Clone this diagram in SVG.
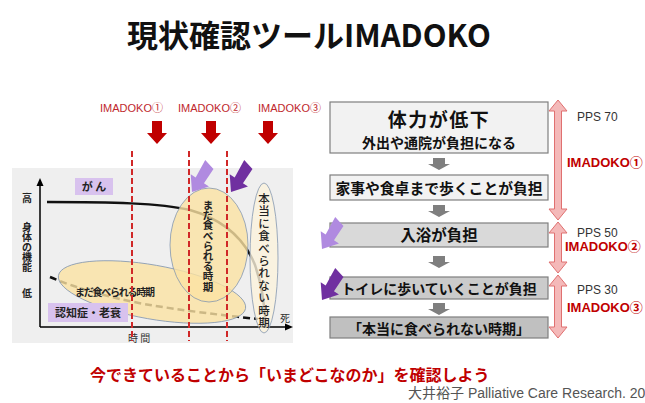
<svg xmlns="http://www.w3.org/2000/svg" width="645" height="403" viewBox="0 0 645 403">
<style>
.jp{font-family:"Noto Sans CJK JP",sans-serif}
.lat{font-family:"Liberation Sans","Noto Sans CJK JP",sans-serif}
.redlab{fill:#c0282d;font-size:11px}
.rlab{fill:#c00000;font-size:13px;font-weight:bold}
.pps{fill:#333;font-size:12px}
.box{stroke:#7f7f7f;stroke-width:1.2}
.btxt{fill:#111;font-weight:bold;text-anchor:middle}
.vdash{stroke:#d02828;stroke-width:2;stroke-dasharray:6 3;fill:none}
.ell{fill:#fbe2a3;fill-opacity:0.8;stroke:#8497b0;stroke-width:0.8}
.gray{fill:#7f7f7f}
.reddown{fill:#c00000}
.dbl{fill:#f4b9b9;stroke:#e07070;stroke-width:1}
.lp{fill:#b08ae0}
.dp{fill:#7030a0}
.ax{stroke:#000;stroke-width:1.5;fill:none}
.ctxt{fill:#222;font-size:10px;font-weight:bold;text-anchor:middle}
</style>
<defs>
<path id="bolt" d="M0,0 L-11,-14 L-5,-14 L-7,-34 L5,-31 L5,-14 L11,-14 Z"/>
<path id="gdown" d="M-6,0 H6 V6 H11 L0,12 L-11,6 H-6 Z"/>
<path id="rdown" d="M-5,0 H5 V12 H10 L0,23 L-10,12 H-5 Z"/>
</defs>
<rect width="645" height="403" fill="#fff"/>

<g id="title">
<text class="jp" x="127" y="47" font-size="31" font-weight="bold" fill="#111">現状確認ツールIMADOKO</text>
</g>

<g id="chart">
<rect x="12" y="168" width="281" height="175" fill="#efefef"/>
<path class="ax" d="M40,327 V183 M40,327 H287"/>
<polygon points="40,178 36.5,186 43.5,186" fill="#000"/>
<polygon points="293,327 285,323.5 285,330.5" fill="#000"/>
<path d="M47,202 C110,202 160,203 190,210 C225,220 245,240 255,265 C262,285 265,310 266,327" fill="none" stroke="#111" stroke-width="2.5"/>
<path d="M50,277 C80,290 120,300 150,305 S220,315 258,319" fill="none" stroke="#111" stroke-width="2.5" stroke-dasharray="7 4"/>
</g>

<g id="ellipse-h">
<ellipse class="ell" cx="152" cy="292" rx="95" ry="27" transform="rotate(10 152 292)"/>
<text class="jp" x="75" y="296" font-size="10" font-weight="bold" fill="#222" textLength="80">まだ食べられる時期</text>
</g>
<g id="ellipse-v">
<ellipse class="ell" cx="209" cy="245" rx="39" ry="57"/>
<text class="jp" font-size="10.5" font-weight="bold" fill="#222" text-anchor="middle"><tspan x="208" y="209">ま</tspan><tspan x="208" y="219.2">だ</tspan><tspan x="208" y="229.4">食</tspan><tspan x="208" y="239.6">べ</tspan><tspan x="208" y="249.8">ら</tspan><tspan x="208" y="260">れ</tspan><tspan x="208" y="270.2">る</tspan><tspan x="208" y="280.4">時</tspan><tspan x="208" y="290.6">期</tspan></text>
</g>
<g id="ellipse-n">
<ellipse cx="264" cy="258" rx="14" ry="75" fill="#fbf3dc" fill-opacity="0.8" stroke="#8497b0" stroke-width="0.8"/>
<text class="jp" font-size="11.5" font-weight="500" fill="#222" text-anchor="middle"><tspan x="264" y="203">本</tspan><tspan x="264" y="215.4">当</tspan><tspan x="264" y="227.8">に</tspan><tspan x="264" y="240.2">食</tspan><tspan x="264" y="252.6">べ</tspan><tspan x="264" y="265">ら</tspan><tspan x="264" y="277.4">れ</tspan><tspan x="264" y="289.8">な</tspan><tspan x="264" y="302.2">い</tspan><tspan x="264" y="314.6">時</tspan><tspan x="264" y="327">期</tspan></text>
</g>
<g id="label-gan">
<rect x="75" y="178" width="38" height="17" fill="#d8c2ee"/>
<text class="jp" x="94" y="191" font-size="11" font-weight="bold" fill="#222" text-anchor="middle">が ん</text>
</g>
<g id="label-ninchi">
<rect x="48" y="303" width="80" height="19" fill="#d8c2ee"/>
<text class="jp" x="88" y="317" font-size="11" font-weight="bold" fill="#222" text-anchor="middle">認知症・老衰</text>
</g>
<g id="axis-labels">
<text class="jp ctxt" x="27" y="202">高</text>
<text class="jp ctxt"><tspan x="27" y="231">身</tspan><tspan x="27" y="241">体</tspan><tspan x="27" y="251">の</tspan><tspan x="27" y="261">機</tspan><tspan x="27" y="271">能</tspan></text>
<text class="jp ctxt" x="27" y="297">低</text>
<text class="jp" x="128" y="342" font-size="10" fill="#333">時 間</text>
<text class="jp" x="280" y="322" font-size="10" fill="#333">死</text>
</g>

<g id="imadoko-left">
<text class="lat redlab" x="100" y="112">IMADOKO①</text>
<text class="lat redlab" x="178" y="112">IMADOKO②</text>
<text class="lat redlab" x="258" y="112">IMADOKO③</text>
<use href="#rdown" class="reddown" transform="translate(157,121)"/>
<use href="#rdown" class="reddown" transform="translate(211,121)"/>
<use href="#rdown" class="reddown" transform="translate(268,121)"/>
</g>
<g id="dashed-lines">
<path class="vdash" d="M132,151 V341 M189,151 V341 M227,151 V341"/>
</g>
<g id="bolts-left">
<use href="#bolt" class="lp" transform="translate(192,192) rotate(34)"/>
<use href="#bolt" class="dp" transform="translate(231,192) rotate(34)"/>
</g>

<g id="box1">
<rect class="box" x="330" y="102" width="218" height="51" fill="#f2f2f2"/>
<text class="jp btxt" x="439" y="127" font-size="19" letter-spacing="1.5">体力が低下</text>
<text class="jp btxt" x="439" y="148" font-size="14">外出や通院が負担になる</text>
</g>
<g id="box2">
<rect class="box" x="330" y="175" width="218" height="25" fill="#f2f2f2"/>
<text class="jp btxt" x="439" y="194" font-size="14.8">家事や食卓まで歩くことが負担</text>
</g>
<g id="box3">
<rect class="box" x="330" y="223" width="218" height="24" fill="#d9d9d9"/>
<text class="jp btxt" x="439" y="241" font-size="15.5">入浴が負担</text>
</g>
<g id="box4">
<rect class="box" x="330" y="277" width="218" height="22" fill="#cbcbcb"/>
<text class="jp btxt" x="439" y="294" font-size="14">トイレに歩いていくことが負担</text>
</g>
<g id="box5">
<rect class="box" x="330" y="317" width="218" height="21" fill="#c0c0c0"/>
<text class="jp btxt" x="439" y="333.5" font-size="14">「本当に食べられない時期」</text>
</g>

<g id="connectors">
<use href="#gdown" class="gray" transform="translate(439,158)"/>
<use href="#gdown" class="gray" transform="translate(439,205)"/>
<use href="#gdown" class="gray" transform="translate(439,256)"/>
<use href="#gdown" class="gray" transform="translate(439,303)"/>
</g>
<g id="bolts-right">
<use href="#bolt" class="lp" transform="translate(322,249) rotate(34)"/>
<use href="#bolt" class="dp" transform="translate(322,300) rotate(34)"/>
</g>

<g id="ranges">
<path class="dbl" d="M558,100 L567,111 H561.5 V209 H567 L558,220 L549,209 H554.5 V111 H549 Z"/>
<path class="dbl" d="M558,222 L567,233 H561.5 V262 H567 L558,273 L549,262 H554.5 V233 H549 Z"/>
<path class="dbl" d="M558,275 L567,286 H561.5 V327 H567 L558,338 L549,327 H554.5 V286 H549 Z"/>
<text class="lat pps" x="577" y="121">PPS 70</text>
<text class="lat rlab" x="567" y="167">IMADOKO①</text>
<text class="lat pps" x="577" y="237">PPS 50</text>
<text class="lat rlab" x="565" y="251">IMADOKO②</text>
<text class="lat pps" x="577" y="294">PPS 30</text>
<text class="lat rlab" x="567" y="312">IMADOKO③</text>
</g>

<g id="footer">
<text class="jp" x="90" y="381" font-size="16" font-weight="bold" fill="#c00000">今できていることから「いまどこなのか」を確認しよう</text>
<text class="lat" x="408" y="398" font-size="14" fill="#555">大井裕子 Palliative Care Research. 20</text>
</g>
</svg>
